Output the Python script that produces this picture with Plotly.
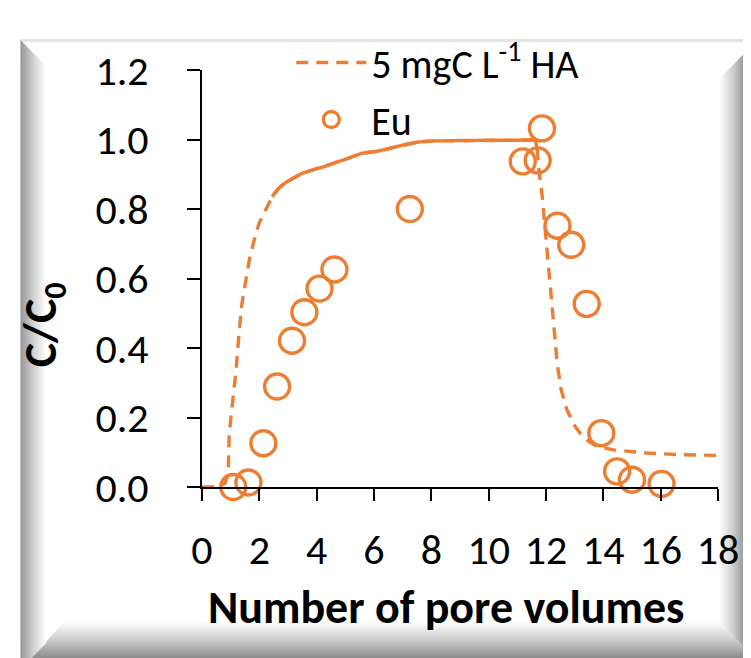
import base64
import plotly.graph_objects as go

# ---------------- data ----------------
eu_x = [1.09, 1.62, 2.14, 2.62, 3.14, 3.57, 4.1, 4.62, 7.25, 11.19, 11.71, 11.86, 12.4, 12.88, 13.42, 13.93, 14.48, 15.0, 16.03]
eu_y = [0.0, 0.013, 0.126, 0.289, 0.421, 0.503, 0.571, 0.626, 0.80, 0.937, 0.94, 1.032, 0.752, 0.697, 0.527, 0.155, 0.045, 0.021, 0.009]

ha_x = [0.0, 0.3, 0.6, 0.8, 0.88, 0.92, 0.95, 1.07, 1.18, 1.28, 1.38, 1.51, 1.65, 1.82, 1.99,
        2.22, 2.45, 2.6, 2.8, 3.0, 3.26, 3.5, 3.84, 4.0, 4.42, 4.7, 5.0, 5.3, 5.57, 6.15, 6.6,
        7.0, 7.5, 8.1, 9.0, 10.0, 11.0, 11.6,
        11.7, 11.75, 11.87, 11.93, 12.02, 12.1, 12.18, 12.27, 12.39, 12.53, 12.73, 13.02, 13.31,
        13.77, 14.35, 15.5, 16.66, 18.0]
ha_y = [0.0, 0.0, 0.004, 0.01, 0.03, 0.06, 0.155, 0.24, 0.33, 0.43, 0.52, 0.586, 0.653, 0.71, 0.759,
        0.797, 0.835, 0.852, 0.869, 0.880, 0.893, 0.903, 0.912, 0.916, 0.926, 0.935, 0.943, 0.952, 0.96, 0.967, 0.976,
        0.984, 0.992, 0.996, 0.997, 0.998, 0.998, 0.998,
        0.97, 0.912, 0.835, 0.778, 0.70, 0.615, 0.529, 0.442, 0.356, 0.28, 0.222, 0.174, 0.141,
        0.117, 0.107, 0.098, 0.093, 0.091]

x_ticks = [0, 2, 4, 6, 8, 10, 12, 14, 16, 18]
y_ticks = [0.0, 0.2, 0.4, 0.6, 0.8, 1.0, 1.2]

ORANGE = "#ED7D31"
FONT = "Calibri, Carlito, Lato, sans-serif"

# ---------------- geometry (reference pixel coords, page has an 8px body margin) ----------------
OFF = 8
W, H = 751 - OFF, 658 - OFF
X0, X1, Y0, Y1 = 202, 722, 487, 70          # plot area edges in page pixels
L, R, T, B = X0 - OFF, 751 - X1, Y1 - OFF, 658 - Y0
PW, PH = X1 - X0, Y0 - Y1


def px2paper(px, py):
    return (px - X0) / PW, (Y0 - py) / PH


# ---------------- bevelled frame (decoration) ----------------
svg = f"""<svg xmlns='http://www.w3.org/2000/svg' width='{W}' height='{H}' viewBox='{OFF} {OFF} {W} {H}' preserveAspectRatio='none'>
<defs>
<linearGradient id='gl' x1='0' y1='0' x2='1' y2='0'><stop offset='0' stop-color='#959595'/><stop offset='0.5' stop-color='#d0d0d0'/><stop offset='1' stop-color='#ffffff'/></linearGradient>
<linearGradient id='gr' x1='0' y1='0' x2='1' y2='0'><stop offset='0' stop-color='#ffffff'/><stop offset='0.5' stop-color='#cfcfcf'/><stop offset='1' stop-color='#8a8a8a'/></linearGradient>
<linearGradient id='gb' x1='0' y1='0' x2='0' y2='1'><stop offset='0' stop-color='#ffffff'/><stop offset='0.5' stop-color='#cccccc'/><stop offset='1' stop-color='#8c8c8c'/></linearGradient>
</defs>
<rect x='19' y='39' width='732' height='619' fill='#ffffff'/>
<rect x='19' y='39' width='732' height='3' fill='#e4e4e4'/>
<polygon points='63,622 723,622 751,650 751,658 30,658' fill='url(#gb)'/>
<polygon points='19,40 45,66 45,643 30,658 19,658' fill='url(#gl)'/>
<polygon points='723,79 751,51 751,650 723,622' fill='url(#gr)'/>
</svg>"""
src = "data:image/svg+xml;base64," + base64.b64encode(svg.encode()).decode()

fig = go.Figure()

# dashed model curve
fig.add_trace(go.Scatter(
    x=ha_x, y=ha_y, mode="lines", name="5 mgC L<sup>-1</sup> HA",
    line=dict(color=ORANGE, width=3.4, dash="12px,8px"),
    legendgroup="a",
))
# dense plateau section renders near-solid in the original
i0, i1 = ha_x.index(2.45), ha_x.index(11.7)
fig.add_trace(go.Scatter(
    x=ha_x[i0:i1 + 1], y=ha_y[i0:i1 + 1], mode="lines", showlegend=False,
    line=dict(color=ORANGE, width=3.4, shape="spline", smoothing=0.6), hoverinfo="skip",
))
fig.add_trace(go.Scatter(
    x=eu_x, y=eu_y, mode="markers", name="Eu",
    marker=dict(symbol="circle-open", size=25, color=ORANGE, line=dict(width=3.4, color=ORANGE)),
    cliponaxis=False, legendgroup="b",
))

lx, ly = px2paper(292, 30)
tx, ty = px2paper(448, 607)
yx, yy = px2paper(42, 325)

fig.update_layout(
    width=W, height=H,
    margin=dict(l=L, r=R, t=T, b=B, pad=0),
    paper_bgcolor="white", plot_bgcolor="rgba(0,0,0,0)",
    font=dict(family=FONT, color="black"),
    showlegend=True,
    legend=dict(x=lx, y=ly, xanchor="left", yanchor="top",
                bgcolor="rgba(0,0,0,0)", font=dict(size=40, family=FONT),
                itemwidth=70, tracegroupgap=2),
    images=[dict(source=src, xref="paper", yref="paper", x=-L / PW, y=1 + T / PH,
                 sizex=W / PW, sizey=H / PH, sizing="stretch", xanchor="left",
                 yanchor="top", layer="below")],
    annotations=[
        dict(text="<b>Number of pore volumes</b>", x=tx, y=ty, xref="paper", yref="paper",
             showarrow=False, xanchor="center", yanchor="middle",
             font=dict(size=46, family=FONT)),
        dict(text="<b>C/C<sub>0</sub></b>", x=yx, y=yy, xref="paper", yref="paper",
             showarrow=False, xanchor="center", yanchor="middle", textangle=-90,
             font=dict(size=46, family=FONT)),
    ],
)
fig.update_xaxes(range=[0, 18], tickvals=x_ticks, ticktext=[str(v) for v in x_ticks],
                 showline=True, linecolor="black", linewidth=2, ticks="outside",
                 ticklen=12, tickwidth=2, tickcolor="black", showgrid=False, zeroline=False,
                 tickfont=dict(size=42, family=FONT), ticklabelstandoff=13)
fig.update_yaxes(range=[0, 1.2], tickvals=y_ticks, ticktext=[f"{v:.1f}" for v in y_ticks],
                 showline=True, linecolor="black", linewidth=2, ticks="outside",
                 ticklen=13, tickwidth=2, tickcolor="black", showgrid=False, zeroline=False,
                 tickfont=dict(size=42, family=FONT), ticklabelstandoff=30)

fig.write_html("out.html")
